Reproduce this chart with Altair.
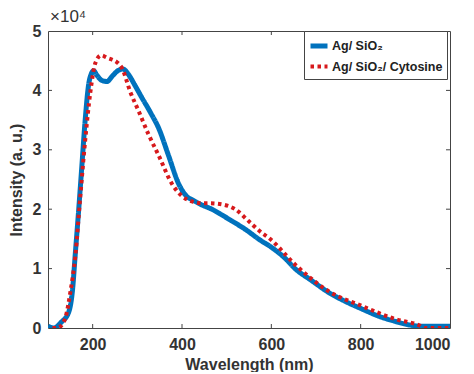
import altair as alt
import pandas as pd

# ---- data (intensity in units of 1e4) ----
s1_name = "Ag/ SiO₂"
s1_wl = [100, 113, 130, 146, 155, 161, 169, 176, 183, 191, 197, 202, 210, 220, 232, 245, 258, 268, 280,
         295, 310, 330, 348, 370, 393, 410, 425, 445, 467, 490, 512, 540, 575, 600, 630, 653, 690, 728,
         765, 803, 840, 878, 910, 937, 960, 1000]
s1_int = [0.03, 0.0, 0.1, 0.26, 0.65, 1.24, 2.02, 2.75, 3.48, 4.1, 4.28, 4.33, 4.25, 4.17, 4.15, 4.25,
          4.34, 4.36, 4.27, 4.08, 3.88, 3.62, 3.36, 2.9, 2.42, 2.22, 2.15, 2.07, 2.0, 1.9, 1.8, 1.67, 1.48,
          1.36, 1.18, 1.0, 0.8, 0.6, 0.45, 0.32, 0.2, 0.11, 0.05, 0.03, 0.03, 0.03]

s2_name = "Ag/ SiO₂/ Cytosine"
s2_wl = [110, 120, 131, 140, 150, 161, 172, 183, 195, 206, 219, 232, 243, 255, 266, 284, 303, 325, 348,
         378, 400, 422, 445, 460, 490, 519, 549, 579, 594, 653, 728, 803, 878, 930, 945, 1000]
s2_int = [0.0, 0.0, 0.05, 0.2, 0.6, 1.2, 2.19, 3.14, 3.98, 4.46, 4.59, 4.55, 4.52, 4.47, 4.37, 3.98,
          3.65, 3.26, 2.9, 2.42, 2.22, 2.13, 2.1, 2.1, 2.08, 2.0, 1.8, 1.6, 1.52, 1.07, 0.62, 0.37, 0.15,
          0.05, 0.0, 0.0]

x_ticks = [200, 400, 600, 800, 1000]
y_ticks = [0, 1, 2, 3, 4, 5]
series_names = [s1_name, s2_name]
series_colors = ["#0072BD", "#D7191C"]

df = pd.concat([
    pd.DataFrame({"wl": s1_wl, "I": [v * 1e4 for v in s1_int], "series": s1_name, "ord": 0}),
    pd.DataFrame({"wl": s2_wl, "I": [v * 1e4 for v in s2_int], "series": s2_name, "ord": 1}),
])

W, H = 402, 297
FONT = "Liberation Sans"
AX = "#444444"

xscale = alt.Scale(domain=[100, 1000], nice=False, zero=False)
yscale = alt.Scale(domain=[0, 50000], nice=False)

lines = alt.Chart(df).mark_line(interpolate="monotone", clip=True).encode(
    x=alt.X("wl:Q", scale=xscale,
            axis=alt.Axis(values=x_ticks, format="d", title="Wavelength (nm)", ticks=False, domain=False,
                          grid=False, labelPadding=8, titlePadding=4)),
    y=alt.Y("I:Q", scale=yscale,
            axis=alt.Axis(values=[v * 1e4 for v in y_ticks], labelExpr="datum.value / 10000",
                          title="Intensity (a. u.)", ticks=False, domain=False, grid=False,
                          labelPadding=7, titlePadding=8)),
    color=alt.Color("series:N", scale=alt.Scale(domain=series_names, range=series_colors),
                    legend=alt.Legend(title=None, orient="none", legendX=256, legendY=0,
                                      symbolType="stroke", symbolSize=289, symbolStrokeWidth=4,
                                      labelFont=FONT, labelFontSize=12.5, labelFontWeight="bold",
                                      labelColor="#222", strokeColor=AX, fillColor="white",
                                      padding=4, rowPadding=0, labelOffset=2)),
    strokeDash=alt.StrokeDash("series:N", scale=alt.Scale(domain=series_names, range=[[1, 0], [3.5, 3.5]]),
                              legend=None),
    strokeWidth=alt.StrokeWidth("series:N", scale=alt.Scale(domain=series_names, range=[5, 4]), legend=None),
    order="ord:Q",
)

xt = pd.DataFrame({"t": x_ticks[:-1]})
yt = pd.DataFrame({"t": [v * 1e4 for v in y_ticks[1:-1]]})

tick_b = alt.Chart(xt).mark_rule(color=AX, strokeWidth=1).encode(
    x=alt.X("t:Q", scale=xscale), y=alt.value(H), y2=alt.value(H - 4))
tick_t = alt.Chart(xt).mark_rule(color=AX, strokeWidth=1).encode(
    x=alt.X("t:Q", scale=xscale), y=alt.value(0), y2=alt.value(4))
tick_l = alt.Chart(yt).mark_rule(color=AX, strokeWidth=1).encode(
    y=alt.Y("t:Q", scale=yscale), x=alt.value(0), x2=alt.value(4))
tick_r = alt.Chart(yt).mark_rule(color=AX, strokeWidth=1).encode(
    y=alt.Y("t:Q", scale=yscale), x=alt.value(W), x2=alt.value(W - 4))

chart = alt.layer(lines, tick_b, tick_t, tick_l, tick_r).properties(
    width=W, height=H, background="white", padding=0,
    title=alt.TitleParams("×10⁴", anchor="start", frame="group", font=FONT, fontSize=17,
                          fontWeight="normal", color="#333", offset=-3, dx=2),
).configure_view(stroke=AX, strokeWidth=1).configure_axis(
    labelFont=FONT, labelFontSize=16, labelFontWeight="bold", labelColor="#333",
    titleFont=FONT, titleFontSize=16, titleFontWeight="bold", titleColor="#333",
)

chart.save("out.html", embed_options={"renderer": "svg", "actions": False})
